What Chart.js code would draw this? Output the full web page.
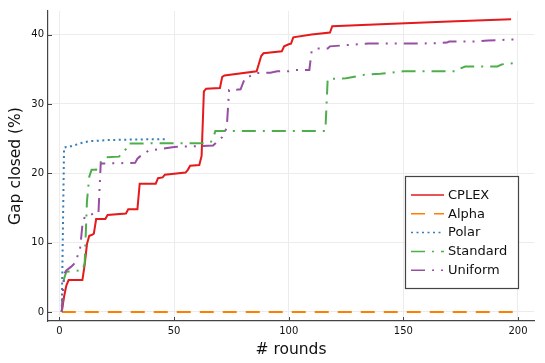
<!DOCTYPE html>
<html>
<head>
<meta charset="utf-8">
<script src="https://cdn.jsdelivr.net/npm/chart.js@4/dist/chart.umd.min.js"></script>
<style>
  html, body { margin: 0; padding: 0; background: #fff; }
  #wrap { width: 545px; height: 363px; }
</style>
</head>
<body>
<div id="wrap"><canvas id="gapChart" width="545" height="363"></canvas></div>
<script>
// ================================
// DATA
// ================================

const cplexRounds = [1, 2, 3, 4, 10, 11, 12, 13, 14, 15, 16, 20, 21, 29, 30, 34, 35, 42, 43, 45, 46, 55, 56, 57, 61, 62, 63, 64, 70, 71, 72, 86, 87, 88, 89, 97, 98, 100, 101, 102, 110, 118, 119, 140, 170, 197];
const cplexGap    = [0, 2.2, 3.8, 4.6, 4.6, 6.8, 9.8, 11.0, 11.1, 11.3, 13.4, 13.4, 14.0, 14.2, 14.8, 14.8, 18.5, 18.5, 19.3, 19.4, 19.8, 20.1, 20.5, 21.1, 21.2, 22.5, 31.8, 32.2, 32.3, 33.9, 34.1, 34.7, 35.8, 36.9, 37.3, 37.6, 38.3, 38.6, 38.7, 39.6, 40.0, 40.3, 41.2, 41.5, 41.9, 42.2];

const alphaRounds = [1, 200];
const alphaGap    = [0, 0];

const polarRounds = [1, 2, 3, 4, 5, 6, 8, 10, 12, 14, 17, 22, 30, 40, 47];
const polarGap    = [0, 23.7, 23.8, 23.8, 23.9, 24.0, 24.2, 24.4, 24.55, 24.65, 24.7, 24.8, 24.85, 24.9, 24.9];

const standardRounds = [1, 2, 3, 9, 10, 11, 12, 13, 14, 16, 17, 18, 20, 26, 27, 29, 30, 65, 66, 67, 68, 116, 117, 125, 133, 140, 150, 173, 174, 177, 178, 191, 193, 195, 199];
const standardGap    = [0, 4.8, 5.8, 6.0, 6.0, 7.0, 16.0, 19.5, 20.5, 20.5, 21.3, 21.6, 22.3, 22.4, 22.8, 23.5, 24.3, 24.35, 24.5, 25.0, 26.1, 26.1, 33.6, 33.7, 34.2, 34.35, 34.7, 34.7, 35.0, 35.4, 35.4, 35.4, 35.7, 35.8, 35.9];

const uniformRounds = [1, 2, 3, 5, 6, 7, 8, 9, 10, 11, 15, 17, 18, 33, 34, 35, 39, 44, 50, 60, 67, 69, 71, 72, 73, 74, 79, 81, 83, 86, 92, 95, 100, 103, 109, 110, 112, 117, 118, 130, 135, 153, 164, 169, 170, 182, 187, 198, 200];
const uniformGap    = [0, 5.5, 6.0, 6.5, 6.8, 7.2, 8.2, 9.1, 12.5, 13.7, 14.2, 14.2, 21.4, 21.5, 22.1, 22.4, 23.3, 23.5, 23.8, 23.9, 24.0, 24.6, 25.2, 25.8, 26.7, 32.0, 32.1, 33.8, 34.0, 34.45, 34.5, 34.7, 34.7, 34.9, 34.9, 37.6, 38.0, 38.0, 38.3, 38.6, 38.7, 38.7, 38.75, 38.85, 39.0, 39.0, 39.15, 39.3, 39.3];

const seriesLabels = ['CPLEX', 'Alpha', 'Polar', 'Standard', 'Uniform'];
const xTickValues = [0, 50, 100, 150, 200];
const yTickValues = [0, 10, 20, 30, 40];

// ================================
// HELPERS
// ================================

const FONT = "'DejaVu Sans', 'Liberation Sans', sans-serif";

function toPoints(rounds, gap) {
    return rounds.map((r, i) => ({ x: r, y: gap[i] }));
}

function lineSet(label, points, color, dash, order) {
    return {
        label: label,
        data: points,
        borderColor: color,
        backgroundColor: color,
        borderWidth: 2,
        borderDash: dash,
        pointRadius: 0,
        tension: 0,
        fill: false,
        order: order
    };
}

// inward tick marks + boxed legend in the lower right corner
const plotDecor = {
    id: 'plotDecor',
    afterDraw(chart) {
        const { ctx, chartArea, scales } = chart;
        ctx.save();

        // tick marks pointing into the plot
        ctx.strokeStyle = '#444';
        ctx.lineWidth = 1;
        ctx.setLineDash([]);
        ctx.beginPath();
        xTickValues.forEach(v => {
            const px = Math.round(scales.x.getPixelForValue(v)) + 0.5;
            ctx.moveTo(px, chartArea.bottom);
            ctx.lineTo(px, chartArea.bottom - 4);
        });
        yTickValues.forEach(v => {
            const py = Math.round(scales.y.getPixelForValue(v)) + 0.5;
            ctx.moveTo(chartArea.left, py);
            ctx.lineTo(chartArea.left + 4, py);
        });
        ctx.stroke();

        // legend box
        const boxRight = chartArea.right - 16;
        const boxBottom = chartArea.bottom - 33;
        const boxW = 113;
        const boxH = 112;
        const boxLeft = boxRight - boxW;
        const boxTop = boxBottom - boxH;

        ctx.fillStyle = '#ffffff';
        ctx.fillRect(boxLeft, boxTop, boxW, boxH);
        ctx.strokeStyle = '#444';
        ctx.lineWidth = 1.2;
        ctx.strokeRect(boxLeft + 0.5, boxTop + 0.5, boxW, boxH);

        ctx.font = `13px ${FONT}`;
        ctx.textBaseline = 'middle';
        ctx.textAlign = 'left';
        chart.data.datasets.forEach((ds, i) => {
            const y = boxTop + 19 + i * 18.8;
            ctx.strokeStyle = ds.borderColor;
            ctx.lineWidth = 1.5;
            ctx.setLineDash(ds.borderDash || []);
            ctx.beginPath();
            ctx.moveTo(boxLeft + 6, y);
            ctx.lineTo(boxLeft + 39, y);
            ctx.stroke();
            ctx.fillStyle = '#111';
            ctx.fillText(ds.label, boxLeft + 43, y + 0.5);
        });

        ctx.restore();
    }
};

// ================================
// CHART
// ================================

const chart = new Chart(document.getElementById('gapChart'), {
    type: 'line',
    data: {
        datasets: [
            lineSet(seriesLabels[0], toPoints(cplexRounds, cplexGap), '#e41a1c', [], 4),
            lineSet(seriesLabels[1], toPoints(alphaRounds, alphaGap), '#ff7f00', [14, 9], 3),
            lineSet(seriesLabels[2], toPoints(polarRounds, polarGap), '#377eb8', [2, 3.5], 2),
            lineSet(seriesLabels[3], toPoints(standardRounds, standardGap), '#4daf4a', [14, 7, 2, 7], 1),
            lineSet(seriesLabels[4], toPoints(uniformRounds, uniformGap), '#984ea3', [14, 7, 2, 7, 2, 7], 0)
        ]
    },
    options: {
        responsive: false,
        animation: false,
        devicePixelRatio: 1,
        layout: {
            padding: { top: 11, right: 11, left: 0, bottom: 0 }
        },
        plugins: {
            legend: { display: false },
            tooltip: { enabled: false }
        },
        scales: {
            x: {
                type: 'linear',
                min: -5,
                max: 207,
                afterFit(scale) { scale.height = 42; },
                afterBuildTicks(scale) { scale.ticks = xTickValues.map(v => ({ value: v })); },
                grid: { color: '#ececec', lineWidth: 1, drawTicks: false },
                border: { display: true, color: '#444', width: 1.2 },
                ticks: {
                    padding: 4,
                    color: '#111',
                    maxRotation: 0,
                    font: { family: FONT, size: 10 }
                },
                title: {
                    display: true,
                    text: '# rounds',
                    color: '#111',
                    padding: { top: 0, bottom: 4 },
                    font: { family: FONT, size: 15.5 }
                }
            },
            y: {
                type: 'linear',
                min: -1.3,
                max: 43.4,
                afterFit(scale) { scale.width = 48; },
                afterBuildTicks(scale) { scale.ticks = yTickValues.map(v => ({ value: v })); },
                grid: { color: '#ececec', lineWidth: 1, drawTicks: false },
                border: { display: true, color: '#444', width: 1.2 },
                ticks: {
                    padding: 4,
                    color: '#111',
                    font: { family: FONT, size: 10 }
                },
                title: {
                    display: true,
                    text: 'Gap closed (%)',
                    color: '#111',
                    padding: { top: 7, bottom: 0 },
                    font: { family: FONT, size: 15.5 }
                }
            }
        }
    },
    plugins: [plotDecor]
});
</script>
</body>
</html>
